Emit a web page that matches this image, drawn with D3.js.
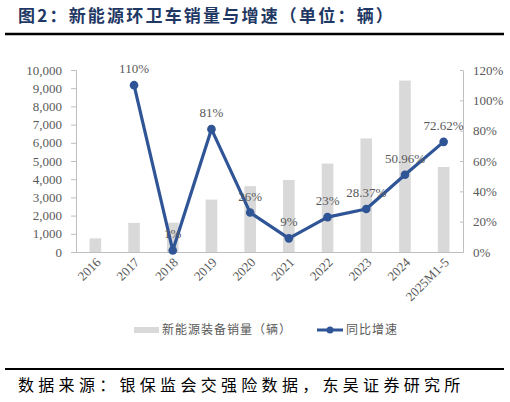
<!DOCTYPE html>
<html><head><meta charset="utf-8">
<script src="https://cdn.jsdelivr.net/npm/d3@7"></script>
<style>
body{margin:0;background:#fff;}
svg{display:block;}
</style></head>
<body><svg id="c" width="510" height="402"></svg>
<script>
const categories = ["2016","2017","2018","2019","2020","2021","2022","2023","2024","2025M1-5"];
const salesValues = [750, 1600, 1610, 2880, 3620, 3960, 4860, 6240, 9420, 4670];
const growthValues = [null, 110, 1, 81, 26, 9, 23, 28.37, 50.96, 72.62];
const growthLabels = [null, "110%", "1%", "81%", "26%", "9%", "23%", "28.37%", "50.96%", "72.62%"];
const leftTicks = [0,1000,2000,3000,4000,5000,6000,7000,8000,9000,10000];
const rightTicks = [0,20,40,60,80,100,120];
const titleText = "图2：新能源环卫车销量与增速（单位：辆）";
const sourceText = "数据来源：银保监会交强险数据，东吴证券研究所";
const legendNames = ["新能源装备销量（辆）", "同比增速"];

const svg = d3.select("#c");
const serif = "'Liberation Serif','Times New Roman',serif";
const cjk = "'Noto Sans CJK SC','Noto Sans',sans-serif";
const gray = "#595959", axisGray = "#BFBFBF", barColor = "#D9D9D9", lineColor = "#2F5597";

const x0 = 76, x1 = 463, yTop = 70, yBot = 252;
const x = d3.scaleBand().domain(categories).range([x0, x1]).paddingInner(0.7).paddingOuter(0.35);
const xc = d => x(d) + x.bandwidth()/2;
const yL = d3.scaleLinear().domain([0,10000]).range([yBot, yTop]);
const yR = d3.scaleLinear().domain([0,120]).range([yBot, yTop]);

// title
svg.append("text").attr("x",18).attr("y",22).text(titleText)
  .attr("font-family",cjk).attr("font-weight","bold").attr("font-size",17)
  .attr("letter-spacing","2.2px").attr("fill","#1F3864");
svg.append("line").attr("x1",5).attr("x2",504).attr("y1",34).attr("y2",34)
  .attr("stroke","#000").attr("stroke-width",2.5);

// bars
svg.append("g").selectAll("rect").data(categories).join("rect")
  .attr("x", d => x(d)).attr("width", x.bandwidth())
  .attr("y", (d,i) => yL(salesValues[i]))
  .attr("height", (d,i) => yBot - yL(salesValues[i]))
  .attr("fill", barColor);

// left axis
const gL = svg.append("g").attr("transform",`translate(${x0},0)`)
  .call(d3.axisLeft(yL).tickValues(leftTicks).tickFormat(d3.format(",")).tickSize(5).tickPadding(9));
gL.select(".domain").attr("stroke",axisGray);
gL.selectAll(".tick line").attr("stroke",axisGray);
gL.selectAll("text").attr("font-family",serif).attr("font-size",13).attr("fill",gray);

// right axis
const gR = svg.append("g").attr("transform",`translate(${x1},0)`)
  .call(d3.axisRight(yR).tickValues(rightTicks).tickFormat(d => d + "%").tickSize(0).tickPadding(10));
gR.select(".domain").attr("stroke",axisGray);
gR.selectAll(".tick").append("line").attr("x1",-3).attr("x2",0).attr("stroke",axisGray);
gR.selectAll("text").attr("font-family",serif).attr("font-size",13).attr("fill",gray);

// bottom axis
const gB = svg.append("g").attr("transform",`translate(0,${yBot})`)
  .call(d3.axisBottom(x).tickSize(0).tickSizeOuter(0));
gB.select(".domain").attr("stroke",axisGray);
gB.selectAll("text").attr("font-family",serif).attr("font-size",13).attr("fill",gray)
  .attr("text-anchor","end").attr("dy",0)
  .attr("transform","translate(4,9) rotate(-45)");

// line
const pts = categories.map((c,i) => ({c, v: growthValues[i], l: growthLabels[i]})).filter(d => d.v !== null);
svg.append("path").datum(pts)
  .attr("d", d3.line().x(d => xc(d.c)).y(d => yR(d.v)))
  .attr("fill","none").attr("stroke",lineColor).attr("stroke-width",3.2).attr("stroke-linejoin","round");
svg.append("g").selectAll("circle").data(pts).join("circle")
  .attr("cx", d => xc(d.c)).attr("cy", d => yR(d.v)).attr("r",4.3).attr("fill",lineColor);
svg.append("g").selectAll("text").data(pts).join("text")
  .attr("x", d => xc(d.c)).attr("y", d => yR(d.v) - 12)
  .attr("text-anchor","middle").text(d => d.l)
  .attr("font-family",serif).attr("font-size",13).attr("fill",gray);

// legend
const lg = svg.append("g");
lg.append("rect").attr("x",134).attr("y",327).attr("width",25).attr("height",6).attr("fill",barColor);
lg.append("text").attr("x",162).attr("y",334).text(legendNames[0])
  .attr("font-family",cjk).attr("font-size",12).attr("letter-spacing","1px").attr("fill",gray);
lg.append("line").attr("x1",317).attr("x2",343).attr("y1",330).attr("y2",330)
  .attr("stroke",lineColor).attr("stroke-width",3);
lg.append("circle").attr("cx",330).attr("cy",330).attr("r",3.5).attr("fill",lineColor);
lg.append("text").attr("x",346).attr("y",334).text(legendNames[1])
  .attr("font-family",cjk).attr("font-size",12).attr("letter-spacing","1px").attr("fill",gray);

// source
svg.append("line").attr("x1",5).attr("x2",504).attr("y1",369).attr("y2",369)
  .attr("stroke","#000").attr("stroke-width",2);
svg.append("text").attr("x",18).attr("y",391).text(sourceText)
  .attr("font-family",cjk).attr("font-size",16).attr("letter-spacing","4.3px").attr("fill","#000");
</script></body></html>
